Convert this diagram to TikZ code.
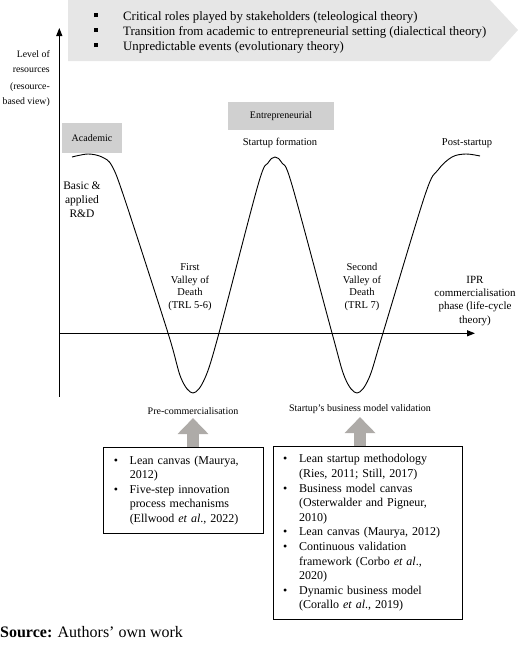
\documentclass[tikz,border=0pt]{standalone}
\usepackage{fontspec}
\setmainfont{Liberation Serif}
\usetikzlibrary{arrows.meta,positioning}

\definecolor{bannergrey}{RGB}{230,230,230}
\definecolor{phasegrey}{RGB}{208,208,208}
\definecolor{arrowgrey}{RGB}{174,171,168}

\tikzset{
	phasebox/.style={fill=phasegrey, inner sep=0pt, font=\fontsize{10}{12}\selectfont},
	toolbox/.style={draw, line width=0.9pt, anchor=north west, inner xsep=10pt, align=left, font=\fontsize{12}{14.6}\selectfont},
	curvelabel/.style={align=center, font=\fontsize{10.5}{12.7}\selectfont},
	axis/.style={line width=1.3pt, -{Triangle[length=8pt,width=6pt]}},
	blockarrow/.style={arrowgrey, line width=12pt, -{Triangle[length=16pt,width=30pt]}}
}

\newcommand{\tbul}{\makebox[16pt][l]{\textbullet}}
\newcommand{\tind}{\hspace*{16pt}}
\newcommand{\sqbul}{\makebox[29pt][l]{\rule[3pt]{3.8pt}{3.8pt}}}

\begin{document}
\begin{tikzpicture}[x=1pt,y=-1pt]
				\useasboundingbox (0,0) rectangle (520,648);
				% theories banner
				\fill[bannergrey] (68,0) -- (490,0) -- (518,30) -- (490,61) -- (68,61) -- cycle;
				\node[anchor=west, align=left, inner sep=0pt, font=\fontsize{12.8}{15}\selectfont] (theories) at (94,32) {\sqbul Critical roles played by stakeholders (teleological theory)\\ \sqbul Transition from academic to entrepreneurial setting (dialectical theory)\\ \sqbul Unpredictable events (evolutionary theory)};
				% axes
				\coordinate (origin) at (59.3,333.3);
				\coordinate (ytop) at (59.3,28);
				\coordinate (ybot) at (59.3,396.7);
				\coordinate (xend) at (475,333.3);
				\draw[axis] (ybot) -- (ytop);
				\draw[axis] (origin) -- (xend);
				\node[anchor=north east, align=right, inner sep=0pt, font=\fontsize{9.8}{14.5}\selectfont] (resources) at (50,50.5) {Level of\\ resources\\[3pt] (resource-\\ based view)};
				\node[anchor=north, align=center, inner sep=0pt, font=\fontsize{11}{13.2}\selectfont] (ipr) at (475,276) {IPR\\ commercialisation\\ phase (life-cycle\\ theory)};
				% resource curve
				\draw[line width=0.9pt] plot[smooth, tension=0.55] coordinates {(72,157) (88,154) (102,157) (112,166) (125,200) (168,333) (181,378) (193,393) (205,378) (219,333) (258,185) (268,163) (275,157) (282,163) (292,185) (332,333) (345,378) (357,393) (369,378) (383,333) (425,195) (438,170) (452,157) (466,154) (480,156)};
				% phases
				\node[phasebox, minimum width=59.4pt, minimum height=30pt] (academic) at (92,138.3) {Academic};
				\node[phasebox, minimum width=106pt, minimum height=28pt] (entrepreneurial) at (281,116) {Entrepreneurial};
				\node[curvelabel] (formation) at (280,143) {Startup formation};
				\node[curvelabel] (poststartup) at (467,143) {Post-startup};
				\node[align=center, font=\fontsize{11.5}{14}\selectfont] (basic) at (82,200) {Basic \&\\ applied\\ R\&D};
				\node[curvelabel] (valley1) at (190,287) {First\\ Valley of\\ Death\\ (TRL 5-6)};
				\node[curvelabel] (valley2) at (362,287) {Second\\ Valley of\\ Death\\ (TRL 7)};
				\node[curvelabel, font=\fontsize{10}{12}\selectfont] (precomm) at (193,411) {Pre-commercialisation};
				\node[curvelabel, font=\fontsize{10}{12}\selectfont] (validation) at (360,409) {Startup's business model validation};
				% tool boxes
				\node[toolbox, text width=140pt, minimum height=86.6pt] (box1) at (103.3,446.7) {\tbul Lean canvas (Maurya,\\ \tind 2012)\\ \tbul Five-step innovation\\ \tind process mechanisms\\ \tind (Ellwood \textit{et al}., 2022)};
				\node[toolbox, text width=169pt, minimum height=173.3pt] (box2) at (272.7,446) {\tbul Lean startup methodology\\ \tind (Ries, 2011; Still, 2017)\\ \tbul Business model canvas\\ \tind (Osterwalder and Pigneur,\\ \tind 2010)\\ \tbul Lean canvas (Maurya, 2012)\\ \tbul Continuous validation\\ \tind framework (Corbo \textit{et al}.,\\ \tind 2020)\\ \tbul Dynamic business model\\ \tind (Corallo \textit{et al}., 2019)};
				\draw[blockarrow] (box1.north -| precomm) -- (precomm.south);
				\draw[blockarrow] (box2.north -| validation) -- (validation.south);
				\node[anchor=west, inner sep=0pt, font=\fontsize{16}{18}\selectfont] (source) at (0,632) {\textbf{Source:} Authors' own work};
			\end{tikzpicture}
\end{document}
